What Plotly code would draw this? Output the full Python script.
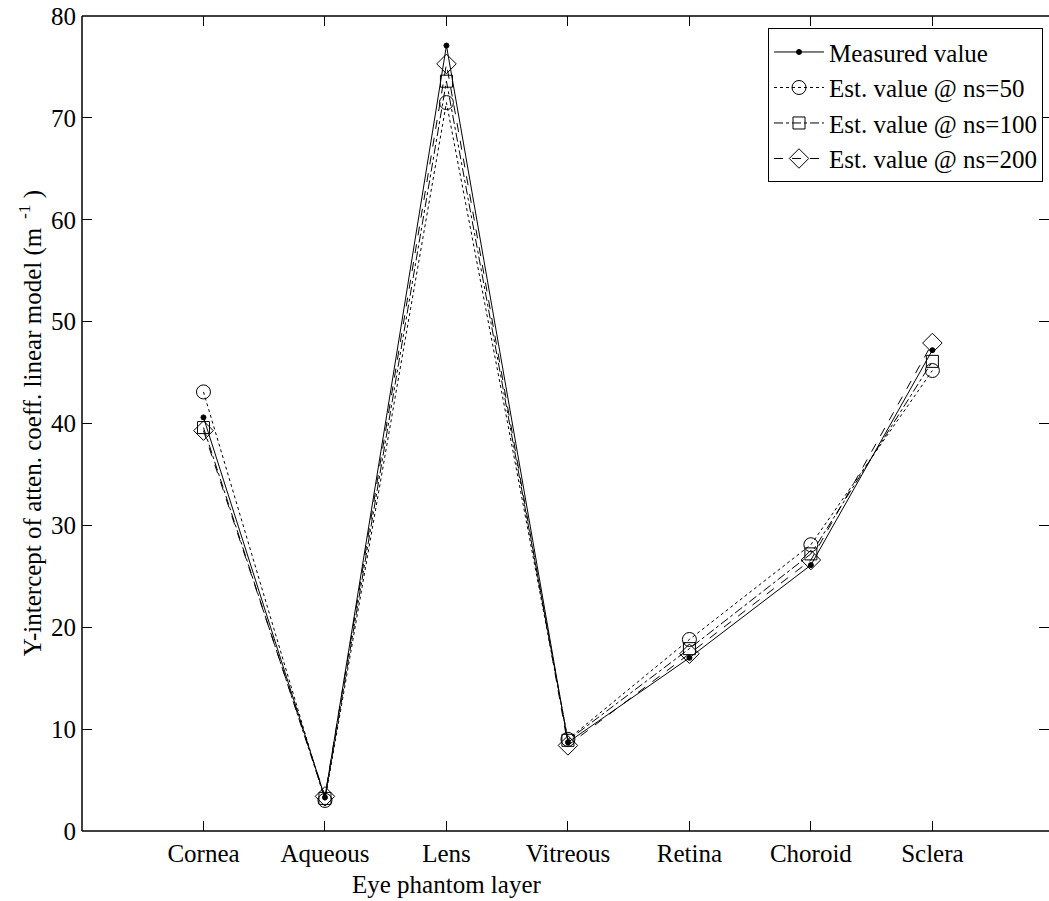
import plotly.graph_objects as go

# Eye phantom layers (x categories)
layers = ["Cornea", "Aqueous", "Lens", "Vitreous", "Retina", "Choroid", "Sclera"]

# Y-intercept of the attenuation-coefficient linear model (m^-1)
measured = [40.6, 3.3, 77.1, 8.7, 17.0, 26.1, 47.2]
est_ns50 = [43.1, 3.0, 71.5, 9.0, 18.8, 28.1, 45.2]
est_ns100 = [39.6, 3.2, 73.6, 8.9, 17.9, 27.2, 46.1]
est_ns200 = [39.3, 3.4, 75.3, 8.4, 17.4, 26.6, 47.9]

y_ticks = [0, 10, 20, 30, 40, 50, 60, 70, 80]

FONT = "Liberation Serif"

fig = go.Figure()

series = [
    ("Measured value", measured, "solid", "circle", 5),
    ("Est. value @ ns=50", est_ns50, "dot", "circle-open", 14),
    ("Est. value @ ns=100", est_ns100, "dashdot", "square-open", 12),
    ("Est. value @ ns=200", est_ns200, "dash", "diamond-open", 15),
]
for name, vals, dash, sym, size in series:
    fig.add_trace(go.Scatter(
        x=layers, y=vals, name=name, mode="lines+markers",
        line=dict(color="black", width=1, dash=dash),
        marker=dict(symbol=sym, size=size, color="black",
                    line=dict(color="black", width=1)),
    ))

# frame on left, bottom and top (right edge falls outside the page)
for x0, y0, x1, y1 in [(0, 0, 0, 1), (0, 0, 1, 0), (0, 1, 1, 1)]:
    fig.add_shape(type="line", xref="paper", yref="paper",
                  x0=x0, y0=y0, x1=x1, y1=y1,
                  line=dict(color="black", width=1.5))

fig.add_annotation(
    text="Y-intercept of atten. coeff. linear model (m<sup>  -1</sup> )",
    xref="paper", yref="paper", x=-0.053, y=0.5, textangle=-90,
    showarrow=False, xanchor="center", yanchor="middle",
    font=dict(family=FONT, size=25, color="black"),
)
fig.add_annotation(
    text="Eye phantom layer", xref="x", yref="paper",
    x="Lens", y=-0.0655, showarrow=False, xanchor="center", yanchor="middle",
    font=dict(family=FONT, size=25, color="black"),
)

fig.update_layout(
    width=1049, height=901,
    margin=dict(l=82, r=0, t=16, b=70),
    paper_bgcolor="white", plot_bgcolor="white",
    font=dict(family=FONT, size=25, color="black"),
    showlegend=True,
    legend=dict(
        x=0.9938, y=0.985, xanchor="right", yanchor="top",
        bgcolor="white", bordercolor="black", borderwidth=1,
        font=dict(family=FONT, size=25, color="black"),
        tracegroupgap=0, itemwidth=50,
    ),
    xaxis=dict(
        type="category", categoryorder="array", categoryarray=layers,
        range=[-1, 6.96], showgrid=False, zeroline=False,
        showline=True, linecolor="white", linewidth=1,
        ticks="inside", ticklen=10, tickwidth=1, tickcolor="black",
        mirror="ticks", tickfont=dict(family=FONT, size=25, color="black"),
    ),
    yaxis=dict(
        range=[0, 80], tickvals=y_ticks, showgrid=False, zeroline=False,
        showline=True, linecolor="white", linewidth=1,
        ticks="inside", ticklen=10, tickwidth=1,
        tickcolor="black", mirror="ticks",
        tickfont=dict(family=FONT, size=25, color="black"),
    ),
)

fig.write_html("out.html")
